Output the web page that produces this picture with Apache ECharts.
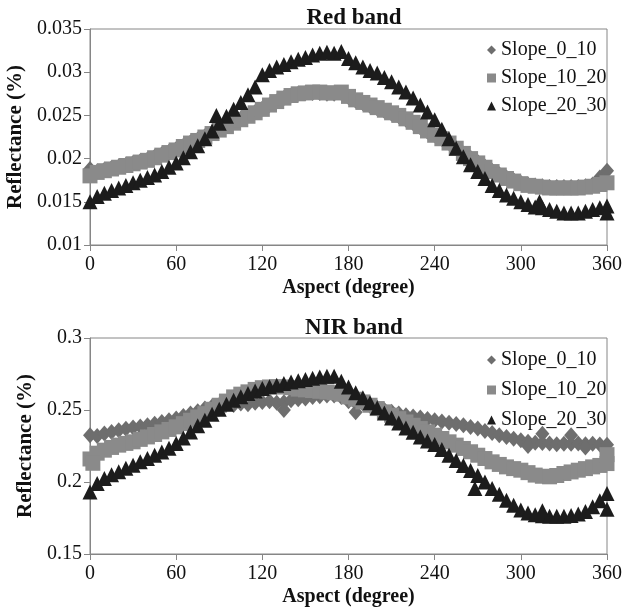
<!DOCTYPE html>
<html>
<head>
<meta charset="utf-8">
<script src="https://cdn.jsdelivr.net/npm/echarts@6/dist/echarts.min.js"></script>
<style>
  html, body { margin: 0; padding: 0; background: #fff; }
  #chart { width: 624px; height: 613px; }
</style>
</head>
<body>
<div id="chart"></div>
<script>
const seriesNames = ['Slope_0_10', 'Slope_10_20', 'Slope_20_30'];

const aspect = [0, 5, 10, 15, 20, 25, 30, 35, 40, 45, 50, 55, 60, 65, 70, 75, 80, 85, 90, 95,
  100, 105, 110, 115, 120, 125, 130, 135, 140, 145, 150, 155, 160, 165, 170, 175, 180, 185, 190, 195,
  200, 205, 210, 215, 220, 225, 230, 235, 240, 245, 250, 255, 260, 265, 270, 275, 280, 285, 290, 295,
  300, 305, 310, 315, 320, 325, 330, 335, 340, 345, 350, 355, 360];

// Red band
const redSlope0to10 = [0.0188, 0.0185, 0.0187, 0.0189, 0.0191, 0.0193, 0.0195, 0.0197, 0.0199, 0.0202,
  0.0205, 0.0208, 0.0211, 0.0215, 0.0219, 0.0222, 0.0226, 0.0230, 0.0234, 0.0238,
  0.0242, 0.0246, 0.0250, 0.0254, 0.0258, 0.0262, 0.0266, 0.0270, 0.0273, 0.0275,
  0.0276, 0.0276, 0.0276, 0.0275, 0.0275, 0.0276, 0.0271, 0.0267, 0.0264, 0.0261,
  0.0258, 0.0255, 0.0252, 0.0249, 0.0245, 0.0241, 0.0236, 0.0231, 0.0227, 0.0223,
  0.0218, 0.0212, 0.0206, 0.0201, 0.0196, 0.0191, 0.0186, 0.0182, 0.0178, 0.0175,
  0.0172, 0.0170, 0.0169, 0.0168, 0.0167, 0.0167, 0.0167, 0.0167, 0.0167, 0.0168,
  0.0170, 0.0178, 0.0186];
const redSlope10to20 = [0.0180, 0.0184, 0.0186, 0.0188, 0.0190, 0.0192, 0.0194, 0.0196, 0.0198, 0.0201,
  0.0204, 0.0207, 0.0210, 0.0214, 0.0218, 0.0221, 0.0225, 0.0229, 0.0233, 0.0237,
  0.0241, 0.0245, 0.0249, 0.0253, 0.0257, 0.0262, 0.0266, 0.0270, 0.0273, 0.0275,
  0.0276, 0.0277, 0.0277, 0.0276, 0.0276, 0.0277, 0.0272, 0.0268, 0.0265, 0.0262,
  0.0259, 0.0256, 0.0253, 0.0250, 0.0246, 0.0242, 0.0237, 0.0232, 0.0227, 0.0223,
  0.0218, 0.0212, 0.0206, 0.0200, 0.0195, 0.0190, 0.0185, 0.0181, 0.0177, 0.0174,
  0.0171, 0.0169, 0.0168, 0.0167, 0.0166, 0.0166, 0.0166, 0.0166, 0.0166, 0.0167,
  0.0168, 0.0170, 0.0172];
const redSlope20to30 = [0.0150, 0.0156, 0.0160, 0.0163, 0.0166, 0.0169, 0.0172, 0.0175, 0.0178, 0.0181,
  0.0185, 0.0190, 0.0195, 0.0201, 0.0208, 0.0215, 0.0223, 0.0232, 0.0241, 0.0249,
  0.0257, 0.0265, 0.0274, 0.0283, 0.0297, 0.0302, 0.0306, 0.0309, 0.0312, 0.0315,
  0.0317, 0.0320, 0.0322, 0.0323, 0.0322, 0.0324, 0.0316, 0.0311, 0.0306, 0.0302,
  0.0299, 0.0294, 0.0289, 0.0283, 0.0277, 0.0270, 0.0262, 0.0254, 0.0245, 0.0234,
  0.0223, 0.0212, 0.0202, 0.0193, 0.0185, 0.0177, 0.0169, 0.0163, 0.0158, 0.0154,
  0.0150, 0.0147, 0.0144, 0.0143, 0.0141, 0.0139, 0.0137, 0.0137, 0.0137, 0.0139,
  0.0141, 0.0143, 0.0145];
const redSlope20to30Extra = [[88, 0.0250], [313, 0.0150], [360, 0.0137]];

// NIR band
const nirSlope0to10 = [0.2325, 0.2320, 0.2337, 0.2348, 0.2360, 0.2370, 0.2378, 0.2386, 0.2394, 0.2405,
  0.2417, 0.2428, 0.2441, 0.2458, 0.2475, 0.2492, 0.2510, 0.2525, 0.2535, 0.2540,
  0.2535, 0.2545, 0.2540, 0.2550, 0.2556, 0.2560, 0.2550, 0.2553, 0.2568, 0.2575,
  0.2580, 0.2590, 0.2595, 0.2600, 0.2600, 0.2590, 0.2560, 0.2550, 0.2545, 0.2530,
  0.2515, 0.2500, 0.2487, 0.2475, 0.2464, 0.2455, 0.2448, 0.2438, 0.2429, 0.2420,
  0.2411, 0.2402, 0.2394, 0.2382, 0.2371, 0.2355, 0.2340, 0.2325, 0.2312, 0.2300,
  0.2290, 0.2280, 0.2272, 0.2270, 0.2268, 0.2262, 0.2265, 0.2265, 0.2268, 0.2262,
  0.2265, 0.2260, 0.2258];
const nirSlope0to10Extra = [[135, 0.2500], [185, 0.2485], [305, 0.2250], [315, 0.2335], [335, 0.2325], [345, 0.2240]];
const nirSlope10to20 = [0.2160, 0.2200, 0.2221, 0.2240, 0.2256, 0.2268, 0.2279, 0.2296, 0.2313, 0.2330,
  0.2348, 0.2365, 0.2383, 0.2405, 0.2429, 0.2452, 0.2475, 0.2505, 0.2533, 0.2562,
  0.2591, 0.2610, 0.2626, 0.2643, 0.2655, 0.2660, 0.2662, 0.2660, 0.2655, 0.2645,
  0.2640, 0.2635, 0.2630, 0.2625, 0.2620, 0.2610, 0.2591, 0.2575, 0.2556, 0.2533,
  0.2510, 0.2487, 0.2464, 0.2440, 0.2417, 0.2394, 0.2371, 0.2348, 0.2325, 0.2302,
  0.2279, 0.2256, 0.2233, 0.2210, 0.2186, 0.2163, 0.2140, 0.2122, 0.2105, 0.2093,
  0.2082, 0.2065, 0.2048, 0.2040, 0.2036, 0.2045, 0.2059, 0.2070, 0.2082, 0.2093,
  0.2105, 0.2115, 0.2128];
const nirSlope10to20Extra = [[2, 0.2130], [360, 0.2190]];
const nirSlope20to30 = [0.1930, 0.1990, 0.2025, 0.2050, 0.2071, 0.2095, 0.2117, 0.2140, 0.2163, 0.2186,
  0.2209, 0.2235, 0.2267, 0.2305, 0.2348, 0.2390, 0.2429, 0.2470, 0.2505, 0.2540,
  0.2568, 0.2592, 0.2614, 0.2632, 0.2649, 0.2661, 0.2672, 0.2684, 0.2695, 0.2703,
  0.2711, 0.2720, 0.2730, 0.2735, 0.2734, 0.2700, 0.2660, 0.2620, 0.2585, 0.2550,
  0.2515, 0.2480, 0.2445, 0.2410, 0.2375, 0.2345, 0.2313, 0.2285, 0.2260, 0.2225,
  0.2185, 0.2150, 0.2115, 0.2080, 0.2045, 0.2000, 0.1955, 0.1915, 0.1874, 0.1838,
  0.1805, 0.1785, 0.1772, 0.1765, 0.1762, 0.1762, 0.1762, 0.1768, 0.1777, 0.1795,
  0.1828, 0.1870, 0.1920];
const nirSlope20to30Extra = [[268, 0.1955], [315, 0.1800], [360, 0.1810]];

const colors = ['#6e6e6e', '#8a8a8a', '#1c1c1c'];
const symbols = ['diamond', 'rect', 'triangle'];
const symbolSizes = [[14, 16], 15, 15];
const serif = '"Liberation Serif", "Times New Roman", serif';

function points(values, extra) {
  let data = [];
  for (let i = 0; i < aspect.length; i++) {
    data.push([aspect[i], values[i]]);
  }
  return data.concat(extra || []);
}

function makeSeries(k, gridIndex, values, extra) {
  return {
    name: seriesNames[k],
    type: 'scatter',
    xAxisIndex: gridIndex,
    yAxisIndex: gridIndex,
    symbol: symbols[k],
    symbolSize: symbolSizes[k],
    itemStyle: { color: colors[k], opacity: 1 },
    data: points(values, extra),
    silent: true
  };
}

function xAxis(gridIndex) {
  return {
    type: 'value',
    gridIndex: gridIndex,
    min: 0,
    max: 360,
    interval: 60,
    name: 'Aspect (degree)',
    nameLocation: 'middle',
    nameGap: 33,
    nameTextStyle: { fontFamily: serif, fontWeight: 'bold', fontSize: 20, color: '#111' },
    axisLine: { lineStyle: { color: '#868686', width: 1 } },
    axisTick: { show: true, inside: false, length: 6, lineStyle: { color: '#868686' } },
    axisLabel: { fontFamily: serif, fontSize: 20, color: '#111', margin: 10 },
    splitLine: { show: false }
  };
}

function yAxis(gridIndex, min, max, interval) {
  return {
    type: 'value',
    gridIndex: gridIndex,
    min: min,
    max: max,
    interval: interval,
    name: 'Reflectance (%)',
    nameLocation: 'middle',
    nameGap: 46,
    nameTextStyle: { fontFamily: serif, fontWeight: 'bold', fontSize: 21, color: '#111' },
    axisLine: { show: true, lineStyle: { color: '#868686', width: 1 } },
    axisTick: { show: true, inside: false, length: 6, lineStyle: { color: '#868686' } },
    axisLabel: { fontFamily: serif, fontSize: 20, color: '#111', margin: 8 },
    splitLine: { show: false }
  };
}

function legend(top, gap) {
  return {
    orient: 'vertical',
    left: 482,
    top: top,
    itemGap: gap,
    itemWidth: 9,
    itemHeight: 9,
    textStyle: { fontFamily: serif, fontSize: 20, color: '#111' },
    data: seriesNames.map((n, k) => ({ name: n, icon: symbols[k] })),
    selectedMode: false
  };
}

let chart = echarts.init(document.getElementById('chart'));
chart.setOption({
  animation: false,
  backgroundColor: '#fff',
  title: [
    { text: 'Red band', left: 349, top: 2, textAlign: 'center',
      textStyle: { fontFamily: serif, fontWeight: 'bold', fontSize: 23, color: '#111' } },
    { text: 'NIR band', left: 349, top: 312, textAlign: 'center',
      textStyle: { fontFamily: serif, fontWeight: 'bold', fontSize: 23, color: '#111' } }
  ],
  legend: [legend(35, 8), legend(345, 10)],
  grid: [
    { left: 90, right: 17, top: 29, height: 216, show: true, borderColor: '#868686', borderWidth: 1, outerBoundsMode: 'none' },
    { left: 90, right: 17, top: 338, height: 216, show: true, borderColor: '#868686', borderWidth: 1, outerBoundsMode: 'none' }
  ],
  xAxis: [xAxis(0), xAxis(1)],
  yAxis: [yAxis(0, 0.01, 0.035, 0.005), yAxis(1, 0.15, 0.3, 0.05)],
  series: [
    makeSeries(0, 0, redSlope0to10),
    makeSeries(1, 0, redSlope10to20),
    makeSeries(2, 0, redSlope20to30, redSlope20to30Extra),
    makeSeries(0, 1, nirSlope0to10, nirSlope0to10Extra),
    makeSeries(1, 1, nirSlope10to20, nirSlope10to20Extra),
    makeSeries(2, 1, nirSlope20to30, nirSlope20to30Extra)
  ]
});
</script>
</body>
</html>
